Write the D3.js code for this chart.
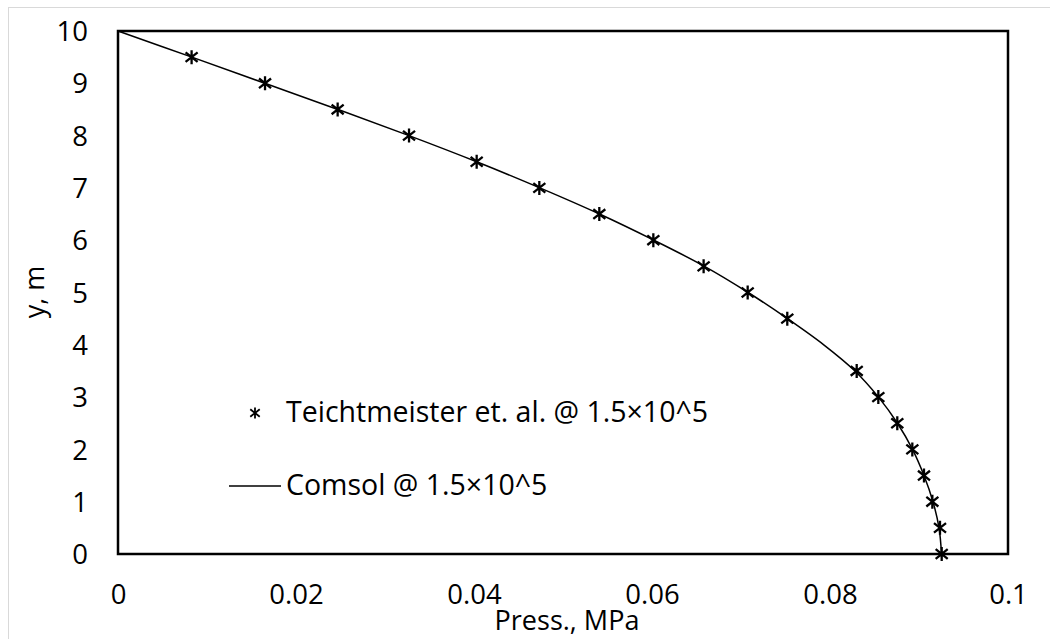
<!DOCTYPE html>
<html>
<head>
<meta charset="utf-8">
<script src="https://cdn.jsdelivr.net/npm/d3@7/dist/d3.min.js"></script>
<style>
  html, body { margin: 0; padding: 0; background: #fff; }
  svg { display: block; }
  text { font-family: "Open Sans", "Lato", sans-serif; fill: #000; }
</style>
</head>
<body>
<svg id="chart" width="1050" height="639"></svg>
<script>
// ---- data ----
const xTicks = [0, 0.02, 0.04, 0.06, 0.08, 0.1];
const xTickLabels = ["0", "0.02", "0.04", "0.06", "0.08", "0.1"];
const yTicks = [0, 1, 2, 3, 4, 5, 6, 7, 8, 9, 10];
const yTickLabels = ["0", "1", "2", "3", "4", "5", "6", "7", "8", "9", "10"];

const teichY = [9.5, 9, 8.5, 8, 7.5, 7, 6.5, 6, 5.5, 5, 4.5, 3.5, 3, 2.5, 2, 1.5, 1, 0.5, 0];
const teichP = [0.00827, 0.01652, 0.02468, 0.0327, 0.0403, 0.04734, 0.05408, 0.06015, 0.0658, 0.07075, 0.0752, 0.0830, 0.08543, 0.08756, 0.08925, 0.09056, 0.0915, 0.09236, 0.09255];

const comsolY = [10, 9.5, 9, 8.5, 8, 7.5, 7, 6.5, 6, 5.5, 5, 4.5, 4, 3.5, 3, 2.5, 2, 1.5, 1, 0.5, 0];
const comsolP = [0, 0.0083, 0.0165, 0.0247, 0.0327, 0.0403, 0.0474, 0.0541, 0.0602, 0.0659, 0.0708, 0.07522, 0.0793, 0.0828, 0.08545, 0.08758, 0.08927, 0.09056, 0.09157, 0.09225, 0.09253];

const teichLabel = "Teichtmeister et. al. @ 1.5×10^5";
const comsolLabel = "Comsol @ 1.5×10^5";
const xTitle = "Press., MPa";
const yTitle = "y, m";

// ---- layout ----
const svg = d3.select("#chart");
const plot = { left: 118, right: 1008, top: 31, bottom: 554 };

const x = d3.scaleLinear().domain([0, 0.1]).range([plot.left, plot.right]);
const y = d3.scaleLinear().domain([0, 10]).range([plot.bottom, plot.top]);

// outer chart-area border (light gray)
svg.append("rect")
  .attr("x", 8.5).attr("y", 7.5)
  .attr("width", 1100).attr("height", 700)
  .attr("fill", "none").attr("stroke", "#d9d9d9").attr("stroke-width", 1);

// axes (labels only)
const xAxis = d3.axisBottom(x).tickValues(xTicks)
  .tickFormat((d, i) => xTickLabels[i]).tickSize(0).tickPadding(0);
const gx = svg.append("g").attr("transform", `translate(0,${plot.bottom})`).call(xAxis);
gx.select(".domain").remove();
gx.selectAll("text")
  .attr("y", 50).attr("dy", null)
  .style("font-family", '"Open Sans", sans-serif')
  .style("font-size", "27.5px").attr("fill", "#000");

const yAxis = d3.axisLeft(y).tickValues(yTicks)
  .tickFormat((d, i) => yTickLabels[i]).tickSize(0).tickPadding(0);
const gy = svg.append("g").attr("transform", `translate(${plot.left},0)`).call(yAxis);
gy.select(".domain").remove();
gy.selectAll("text")
  .attr("x", -30).attr("dy", "0.35em")
  .style("font-family", '"Open Sans", sans-serif')
  .style("font-size", "27.5px").attr("fill", "#000");

// Comsol line
const comsol = comsolY.map((v, i) => ({ y: v, p: comsolP[i] }));
const line = d3.line().x(d => x(d.p)).y(d => y(d.y)).curve(d3.curveCatmullRom.alpha(0.5));
svg.append("path").datum(comsol)
  .attr("d", line)
  .attr("fill", "none").attr("stroke", "#000").attr("stroke-width", 1.5);

// star markers (vertical + X)
function starPath(cx, cy, r) {
  const d = r * 0.86;
  const e = d * 0.8;
  return `M${cx},${cy - r}L${cx},${cy + r}` +
         `M${cx - d},${cy - e}L${cx + d},${cy + e}` +
         `M${cx - d},${cy + e}L${cx + d},${cy - e}`;
}
const teich = teichY.map((v, i) => ({ y: v, p: teichP[i] }));
svg.append("g").selectAll("path").data(teich).join("path")
  .attr("d", d => starPath(x(d.p), y(d.y), 7))
  .attr("fill", "none").attr("stroke", "#000").attr("stroke-width", 2.3);

// plot frame
svg.append("rect")
  .attr("x", plot.left).attr("y", plot.top)
  .attr("width", plot.right - plot.left).attr("height", plot.bottom - plot.top)
  .attr("fill", "none").attr("stroke", "#000").attr("stroke-width", 2.5);

// axis titles
svg.append("text")
  .attr("x", 567).attr("y", 630)
  .attr("text-anchor", "middle")
  .style("font-size", "27px")
  .text(xTitle);
svg.append("text")
  .attr("transform", `translate(44,292) rotate(-90)`)
  .attr("text-anchor", "middle")
  .style("font-size", "27px")
  .text(yTitle);

// legend
svg.append("path")
  .attr("d", starPath(255, 413, 5.5))
  .attr("fill", "none").attr("stroke", "#000").attr("stroke-width", 1.8);
svg.append("text")
  .attr("x", 286).attr("y", 422)
  .style("font-size", "28.5px")
  .text(teichLabel);
svg.append("line")
  .attr("x1", 229).attr("x2", 281).attr("y1", 486).attr("y2", 486)
  .attr("stroke", "#000").attr("stroke-width", 1.3);
svg.append("text")
  .attr("x", 286).attr("y", 495)
  .style("font-size", "28.5px")
  .text(comsolLabel);
</script>
</body>
</html>
